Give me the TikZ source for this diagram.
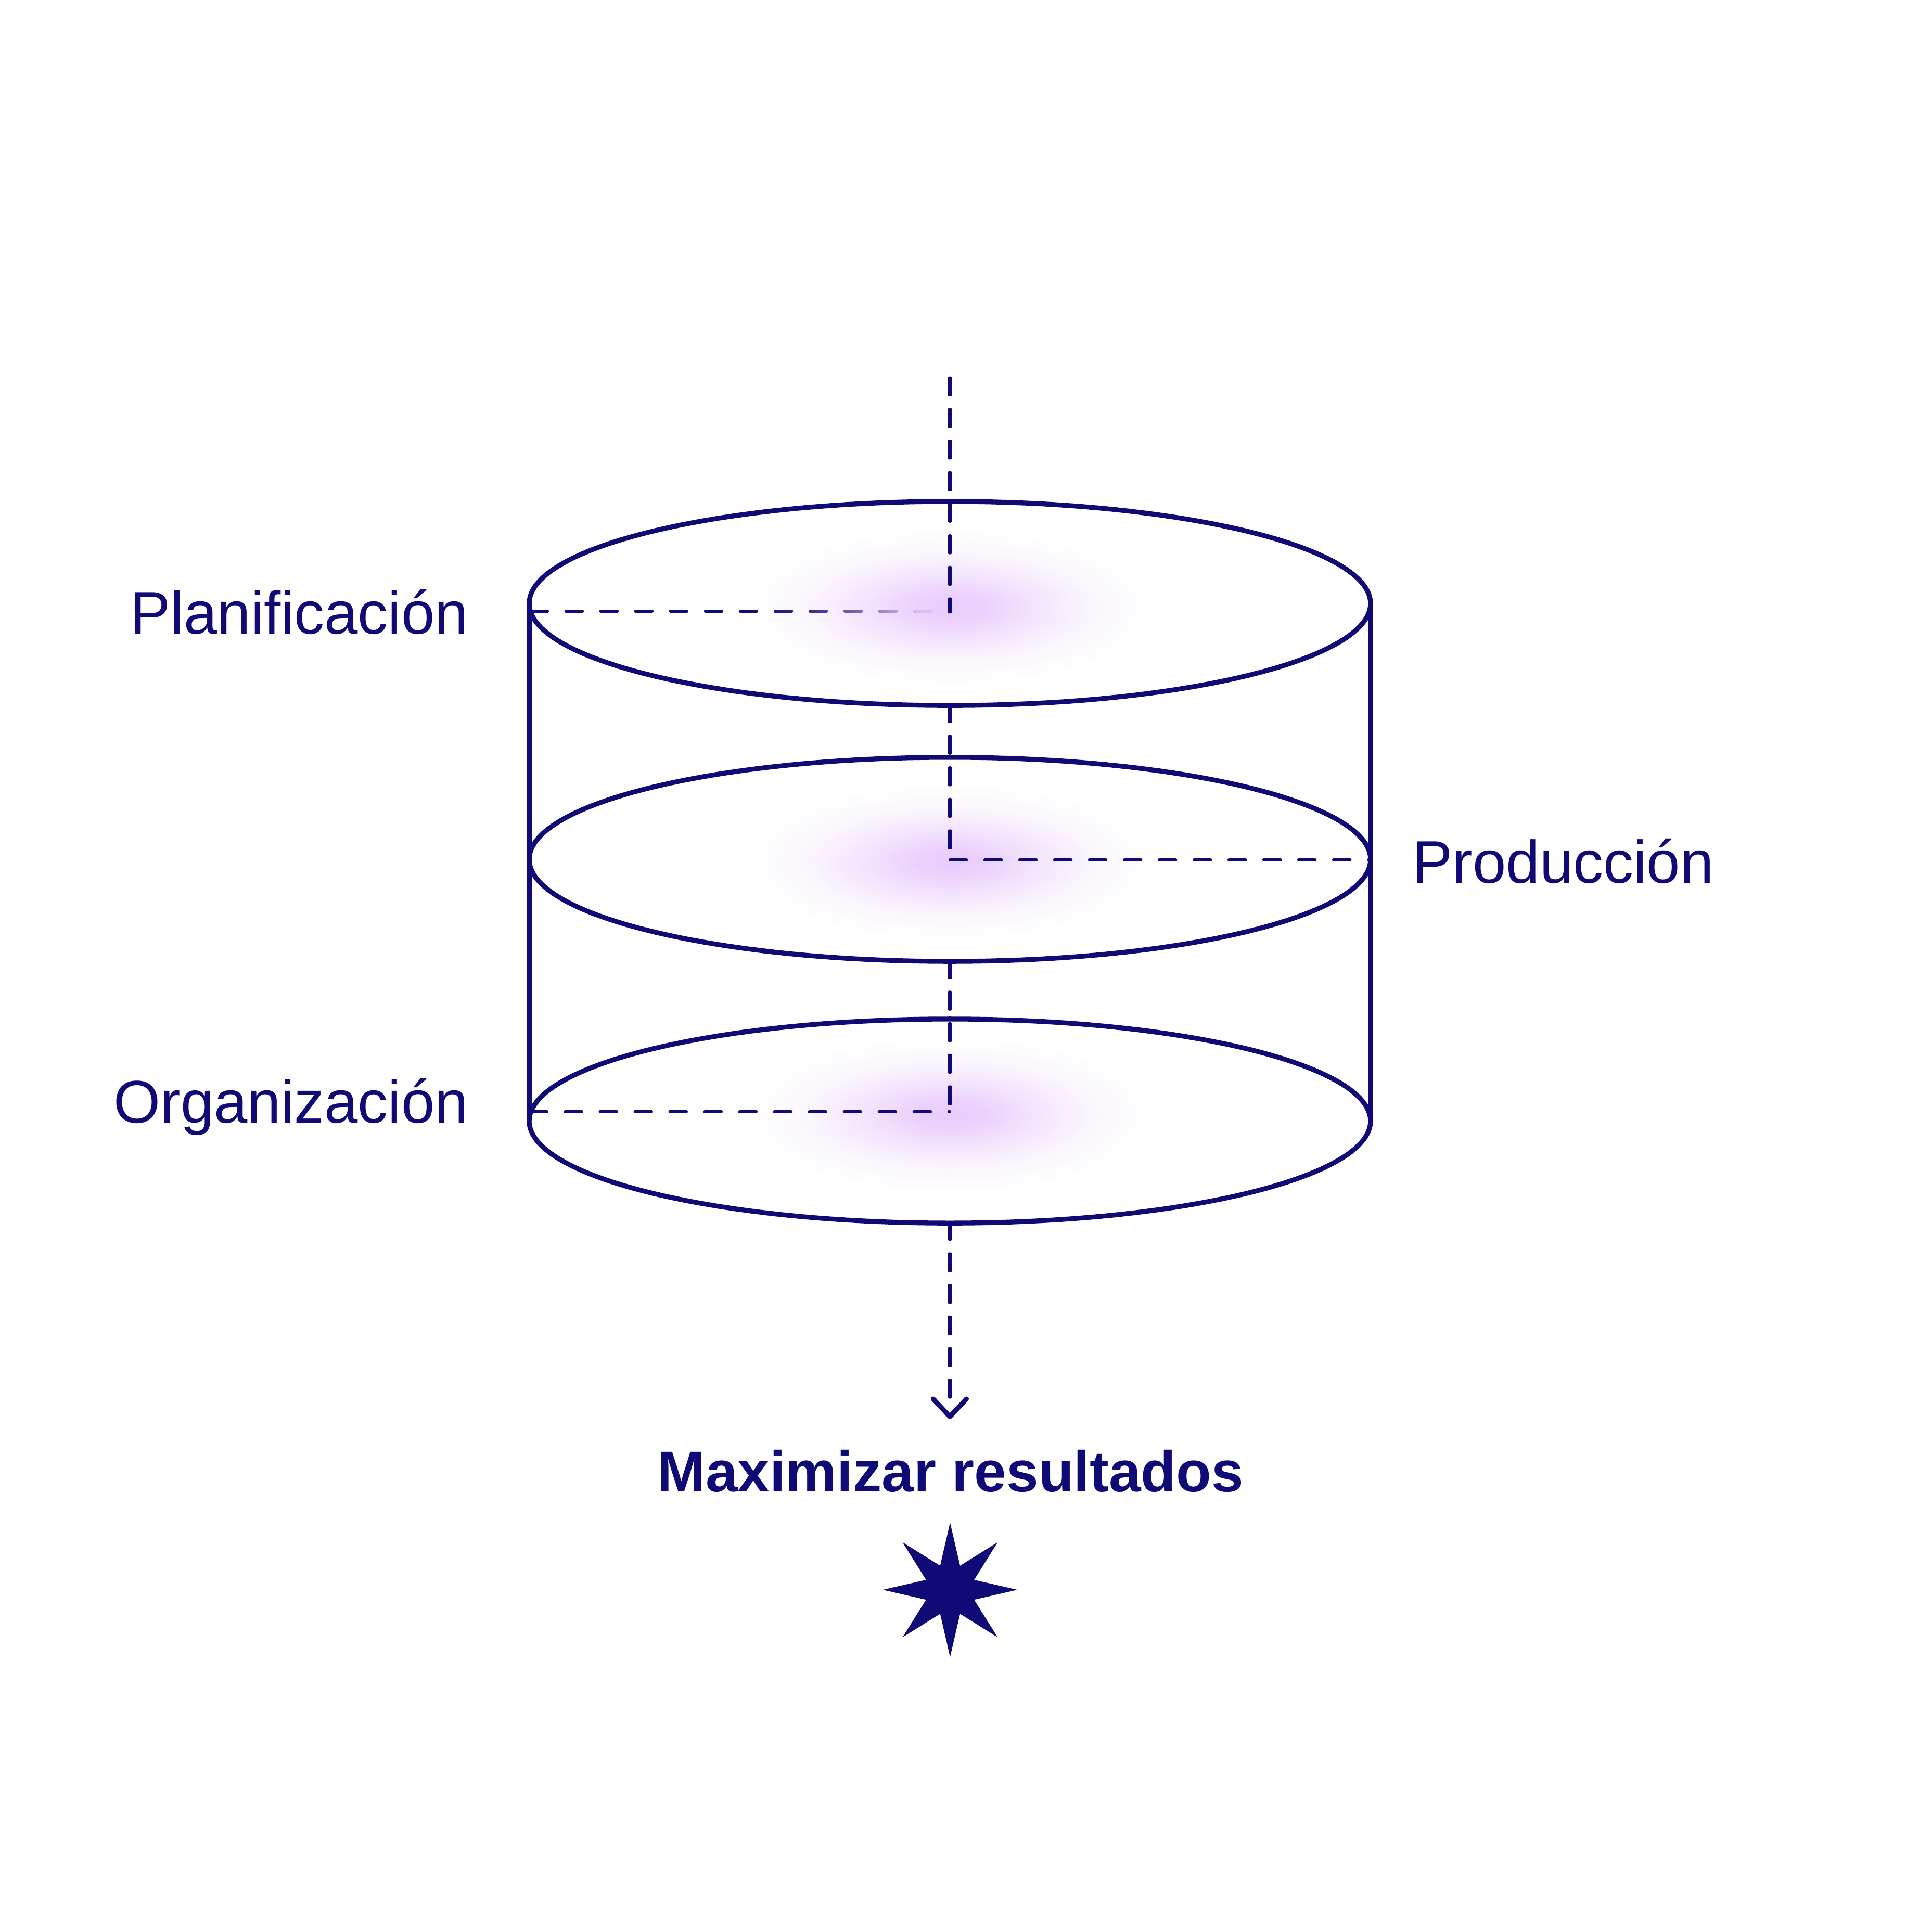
\documentclass[tikz,border=0pt]{standalone}
\usepackage{fontspec}
\setmainfont{Liberation Sans}
\usetikzlibrary{fadings}
\definecolor{navy}{HTML}{0F0A76}
\definecolor{glowc}{HTML}{EACCFD}
\pgfdeclareradialshading{glowshade}{\pgfpointorigin}{color(0bp)=(pgftransparent!0); color(4bp)=(pgftransparent!8); color(10bp)=(pgftransparent!45); color(17.5bp)=(pgftransparent!84); color(25bp)=(pgftransparent!100); color(50bp)=(pgftransparent!100)}
\pgfdeclarefading{glowfade}{\pgfuseshading{glowshade}}
\tikzset{
  outline/.style={draw=navy, line width=1.12pt},
  vdash/.style={draw=navy, line width=1.12pt, line cap=round, dash pattern=on 3.57pt off 3.72pt},
  hdash/.style={draw=navy, line width=0.64pt, line cap=round, dash pattern=on 3.86pt off 4.19pt},
  arrowv/.style={draw=navy, line width=1.12pt, line cap=round, line join=round},
  lab/.style={text=navy, inner sep=0pt, font=\fontsize{13.9pt}{16pt}\selectfont},
  goal/.style={text=navy, inner sep=0pt, font=\fontsize{13.3pt}{16pt}\selectfont\bfseries},
  glow/.style={fill=glowc, path fading=glowfade},
}
\begin{document}
\begin{tikzpicture}[x=0.01cm, y=-0.01cm]
\useasboundingbox[fill=white] (0,0) rectangle (1568,1568);

% key points
\coordinate (c1) at (771.1,490.0);
\coordinate (c2) at (771.1,697.8);
\coordinate (c3) at (771.1,910.3);
\coordinate (top) at (771.1,307.5);
\coordinate (jP) at (771.1,496.3);
\coordinate (jM) at (771.1,698.3);
\coordinate (jO) at (771.1,902.7);
\coordinate (b1) at (771.1,572.8);
\coordinate (b2) at (771.1,780.6);
\coordinate (b3) at (771.1,993.1);
\coordinate (tip) at (771.1,1150.3);
\coordinate (armL) at (757.6,1135.9);
\coordinate (armR) at (784.6,1135.9);
\coordinate (lP) at (431,496.3);
\coordinate (rM) at (1112.4,698.3);
\coordinate (lO) at (430.5,902.7);
\coordinate (lt) at (429.8,490.0);
\coordinate (lb) at (429.8,910.3);
\coordinate (rt) at (1112.4,490.0);
\coordinate (rb) at (1112.4,910.3);

% glows (middle and bottom under the dashes)
\fill[glow] (771.1,700) ellipse [x radius=1.65cm, y radius=0.62cm];
\fill[glow] (771.1,905) ellipse [x radius=1.65cm, y radius=0.62cm];

% Planificacion dashed line, then top glow over it
\draw[hdash] (lP) -- (jP);
\fill[glow] (771.1,493) ellipse [x radius=1.65cm, y radius=0.62cm];

% other horizontal dashed lines
\draw[hdash] (jM) -- (rM);
\draw[hdash] (lO) -- (jO);

% cylinder
\draw[outline] (lt) -- (lb);
\draw[outline] (rt) -- (rb);
\draw[outline] (c1) ellipse [x radius=3.413cm, y radius=0.828cm];
\draw[outline] (c2) ellipse [x radius=3.413cm, y radius=0.828cm];
\draw[outline] (c3) ellipse [x radius=3.413cm, y radius=0.828cm];

% vertical dashed flow
\draw[vdash] (top) -- (jP);
\draw[vdash] (b1) -- (jM);
\draw[vdash] (b2) -- (jO);
\draw[vdash] (b3) -- (771.1,1146);
\draw[arrowv] (armL) -- (tip) -- (armR);

% labels
\node[lab, anchor=base east] (plan) at (381,514.5) {Planificación};
\node[lab, anchor=base west] (prod) at (1146,716.9) {Producción};
\node[lab, anchor=base east] (org) at (381,911.6) {Organización};
\node[goal, anchor=base] (max) at (771.7,1211.1) {Maximizar resultados};

% eight-pointed star
\fill[navy, shift={(771.3,1290.9)}] (90:0.545cm)
  \foreach \k in {1,...,15} { -- ({90+22.5*\k}:{(0.545-0.334*mod(\k,2))*1cm}) } -- cycle;
\end{tikzpicture}
\end{document}
